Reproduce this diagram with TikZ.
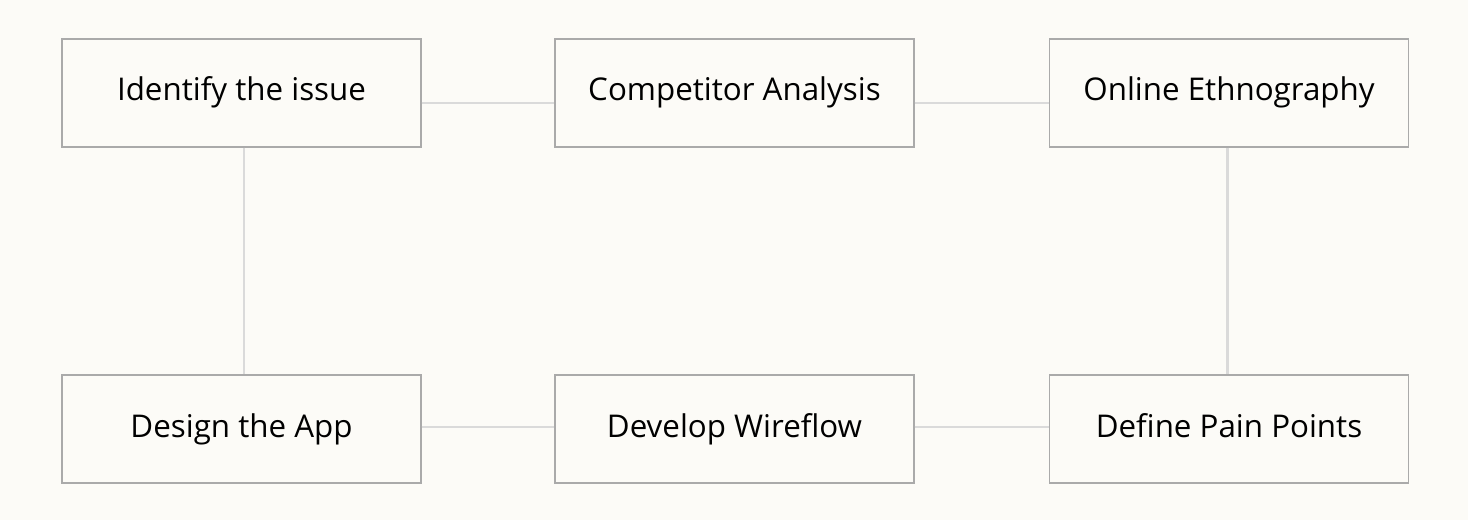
\documentclass[tikz,border=0pt]{standalone}
\usepackage{fontspec}
\setmainfont{Open Sans}
\usetikzlibrary{positioning}
\definecolor{bgcream}{RGB}{252, 251, 247}
\definecolor{boxgray}{RGB}{170, 170, 170}
\definecolor{linkgray}{RGB}{218, 218, 218}

\begin{document}
\begin{tikzpicture}[
                x=0.75pt, y=-0.75pt,
                % Style for the step boxes
                stepbox/.style={
                    rectangle,
                    draw=boxgray, line width=0.9pt,
                    fill=bgcream,
                    font=\fontsize{23.5}{28}\selectfont,
                    text height=17pt, text depth=5pt,
                    minimum width=359*0.75pt, minimum height=108*0.75pt,
                    inner sep=0pt
                },
                % Style for the links
                link/.style={
                    color=linkgray, line width=1.8pt
                }
            ]
                % background
                \fill[bgcream] (0,0) rectangle (1468,520);

                % 1. The step boxes
                \node[stepbox] (issue) at (241.5,93) {Identify the issue};
                \node[stepbox] (comp) at (734.5,93) {Competitor Analysis};
                \node[stepbox] (ethno) at (1229,93) {Online Ethnography};

                \node[stepbox] (design) at (241.5,429) {Design the App};
                \node[stepbox] (wire) at (734.5,429) {Develop Wireflow};
                \node[stepbox] (pain) at (1229,429) {Define Pain Points};

                % 2. The links
                \draw[link] ([yshift=-7.5pt]issue.east) -- ([yshift=-7.5pt]comp.west);
                \draw[link] ([yshift=-7.5pt]comp.east) -- ([yshift=-7.5pt]ethno.west);
                \draw[link] ([yshift=1.5pt]design.east) -- ([yshift=1.5pt]wire.west);
                \draw[link] ([yshift=1.5pt]wire.east) -- ([yshift=1.5pt]pain.west);
                \draw[link] ([xshift=2pt]issue.south) -- ([xshift=2pt]design.north);
                \draw[link] ([xshift=-1pt]ethno.south) -- ([xshift=-1pt]pain.north);
            \end{tikzpicture}
\end{document}
